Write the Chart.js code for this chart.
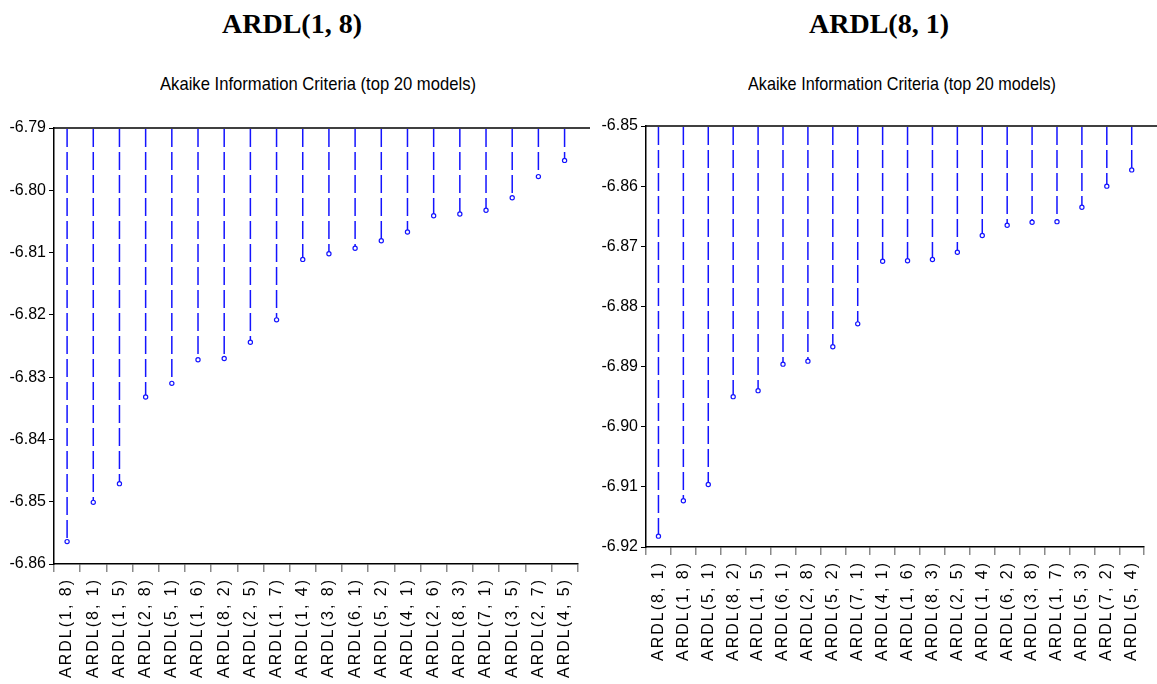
<!DOCTYPE html>
<html>
<head>
<meta charset="utf-8">
<script src="https://cdn.jsdelivr.net/npm/chart.js@4.4.0/dist/chart.umd.min.js"></script>
<style>
  html, body { margin: 0; padding: 0; background: #fff; }
  #wrap { position: relative; width: 1157px; height: 684px; overflow: hidden; background: #fff; }
  .panel { position: absolute; top: 0; height: 684px; }
  .heading { position: absolute; top: 4px; font: bold 28px "Liberation Serif", "Times New Roman", serif; color: #000;
             white-space: nowrap; transform: translateX(-50%); line-height: 40px; }
  .sub { position: absolute; top: 71px; font: 19px "Liberation Sans", Arial, sans-serif; color: #000;
         white-space: nowrap; line-height: 26px; transform-origin: 0 50%; }
</style>
</head>
<body>
<div id="wrap">
  <div class="heading" style="left:292px">ARDL(1, 8)</div>
  <div class="heading" style="left:879px">ARDL(8, 1)</div>
  <div class="sub" data-cx="318" data-w="316">Akaike Information Criteria (top 20 models)</div>
  <div class="sub" data-cx="902" data-w="308">Akaike Information Criteria (top 20 models)</div>
  <canvas id="chartA" class="panel" style="left:0px" width="590" height="684"></canvas>
  <canvas id="chartB" class="panel" style="left:590px" width="567" height="684"></canvas>
</div>
<script>
// Top 20 models ranked by Akaike Information Criterion, per specification
const modelsA = ['ARDL(1, 8)','ARDL(8, 1)','ARDL(1, 5)','ARDL(2, 8)','ARDL(5, 1)','ARDL(1, 6)','ARDL(8, 2)','ARDL(2, 5)','ARDL(1, 7)','ARDL(1, 4)',
                 'ARDL(3, 8)','ARDL(6, 1)','ARDL(5, 2)','ARDL(4, 1)','ARDL(2, 6)','ARDL(8, 3)','ARDL(7, 1)','ARDL(3, 5)','ARDL(2, 7)','ARDL(4, 5)'];
const aicA = [-6.8564,-6.8501,-6.8471,-6.8332,-6.8310,-6.8272,-6.8270,-6.8244,-6.8208,-6.8111,
              -6.8102,-6.8093,-6.8081,-6.8067,-6.8041,-6.8038,-6.8032,-6.8012,-6.7978,-6.7952];
const yRangeA = [-6.86, -6.79];

const modelsB = ['ARDL(8, 1)','ARDL(1, 8)','ARDL(5, 1)','ARDL(8, 2)','ARDL(1, 5)','ARDL(6, 1)','ARDL(2, 8)','ARDL(5, 2)','ARDL(7, 1)','ARDL(4, 1)',
                 'ARDL(1, 6)','ARDL(8, 3)','ARDL(2, 5)','ARDL(1, 4)','ARDL(6, 2)','ARDL(3, 8)','ARDL(1, 7)','ARDL(5, 3)','ARDL(7, 2)','ARDL(5, 4)'];
const aicB = [-6.9182,-6.9123,-6.9096,-6.8950,-6.8940,-6.8896,-6.8891,-6.8867,-6.8829,-6.8725,
              -6.8724,-6.8722,-6.8710,-6.8682,-6.8665,-6.8660,-6.8659,-6.8635,-6.8600,-6.8573];
const yRangeB = [-6.92, -6.85];

const tickStep = 0.01;

// Narrow subtitle: squeeze the text to the desired width, centred on data-cx
document.querySelectorAll('.sub').forEach(el => {
  const w = el.getBoundingClientRect().width;
  const target = +el.dataset.w;
  el.style.left = (+el.dataset.cx - target / 2) + 'px';
  el.style.transform = 'scaleX(' + (target / w) + ')';
});

const STEM = '#1414ff';

// Dashed drop lines from the top of the plot down to each model's criterion value
const stemPlugin = {
  id: 'stems',
  beforeDatasetsDraw(chart) {
    const ctx = chart.ctx;
    const meta = chart.getDatasetMeta(0);
    const top = chart.scales.y.getPixelForValue(chart.scales.y.max);
    ctx.save();
    ctx.strokeStyle = STEM;
    ctx.lineWidth = 1.5;
    ctx.setLineDash([18, 5]);
    meta.data.forEach(pt => {
      ctx.beginPath();
      ctx.moveTo(pt.x, top + 1);
      ctx.lineTo(pt.x, pt.y);
      ctx.stroke();
    });
    ctx.restore();
  },
  afterDraw(chart) {
    // frame line along the top of the plot area
    const a = chart.chartArea;
    const ctx = chart.ctx;
    ctx.save();
    ctx.strokeStyle = '#000';
    ctx.lineWidth = 1.5;
    ctx.beginPath();
    ctx.moveTo(a.left, a.top);
    ctx.lineTo(chart.width, a.top);
    ctx.stroke();
    ctx.restore();
  }
};

function spacedLabels(scale) {
  if (scale._spaced) return;
  scale._spaced = true;
  const orig = scale.drawLabels.bind(scale);
  scale.drawLabels = function (area) {
    const c = this.ctx;
    const prev = c.letterSpacing;
    c.letterSpacing = '2px';
    orig(area);
    c.letterSpacing = prev || '0px';
  };
}

function makeChart(id, labels, values, yRange, dims) {
  return new Chart(document.getElementById(id), {
    type: 'line',
    data: {
      labels: labels,
      datasets: [{
        data: values,
        showLine: false,
        pointRadius: 2.1,
        pointHoverRadius: 2.1,
        pointBorderWidth: 1.2,
        pointBorderColor: STEM,
        pointBackgroundColor: '#ffffff'
      }]
    },
    options: {
      responsive: false,
      animation: false,
      events: [],
      layout: { padding: { left: 0, right: dims.padRight, top: dims.padTop, bottom: 0 } },
      plugins: { legend: { display: false }, tooltip: { enabled: false }, title: { display: false } },
      scales: {
        x: {
          type: 'category',
          offset: true,
          afterFit: s => { s.height = dims.xHeight; },
          afterUpdate: spacedLabels,
          grid: { offset: true, drawOnChartArea: false, drawTicks: true, tickLength: 8, color: '#8a8a8a', lineWidth: 1.5 },
          border: { display: true, color: '#000', width: 1.5 },
          ticks: { autoSkip: false, minRotation: 90, maxRotation: 90, padding: 6, color: '#000',
                   font: { family: '"Liberation Sans", Arial, sans-serif', size: 16 } }
        },
        y: {
          min: yRange[0],
          max: yRange[1],
          afterFit: s => { s.width = dims.yWidth; },
          grid: { drawOnChartArea: false, drawTicks: true, tickLength: 5, color: '#000', lineWidth: 1 },
          border: { display: true, color: '#000', width: 1.5 },
          ticks: { stepSize: tickStep, padding: 3, color: '#000',
                   font: { family: '"Liberation Sans", Arial, sans-serif', size: 16 },
                   callback: v => Number(v).toFixed(2) }
        }
      }
    },
    plugins: [stemPlugin]
  });
}

const chartA = makeChart('chartA', modelsA, aicA, yRangeA, { padRight: 9, padTop: 128, xHeight: 120, yWidth: 54 });
const chartB = makeChart('chartB', modelsB, aicB, yRangeB, { padRight: 0, padTop: 126, xHeight: 137, yWidth: 56 });
chartA.draw();
chartB.draw();
</script>
</body>
</html>
